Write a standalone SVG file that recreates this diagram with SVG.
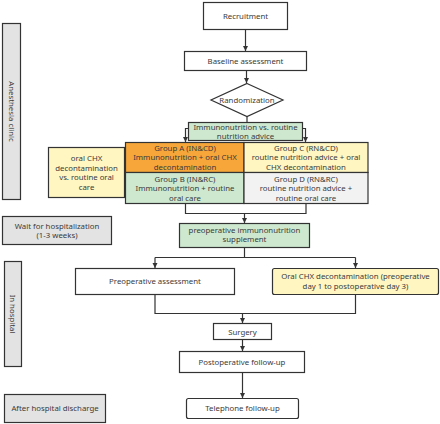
<svg xmlns="http://www.w3.org/2000/svg" width="440" height="424" viewBox="0 0 440 424">
<defs>
<marker id="ah" viewBox="0 0 10 10" refX="10" refY="5" markerWidth="5.5" markerHeight="5.5" orient="auto" markerUnits="userSpaceOnUse">
<path d="M0,0 L10,5 L0,10 z" fill="#333"/>
</marker>
<style>
.b{stroke:#333;stroke-width:1.2}
.w{fill:#fff}
.g{fill:#cde8cf}
.y{fill:#fff6c2}
.o{fill:#f7a73a}
.l{fill:#f2f2f2}
.s{fill:#e3e3e3}
text{font-family:"Noto Sans","Open Sans","DejaVu Sans",sans-serif;font-size:7.8px;fill:#3a3a3a;text-anchor:middle}
.c{fill:none;stroke:#333;stroke-width:1.2}
</style>
</defs>
<rect width="440" height="424" fill="#fff"/>
<g id="side-anesthesia"><rect class="b s" x="2.5" y="23.5" width="18" height="176"/><text transform="translate(11.5,111.5) rotate(90)" dy="2.8">Anesthesia clinic</text></g>
<g id="side-wait"><rect class="b s" x="2.5" y="216.5" width="109" height="28"/><text x="57" y="228.5">Wait for hospitalization</text><text x="57" y="238">(1-3 weeks)</text></g>
<g id="side-inhospital"><rect class="b s" x="4.5" y="261.5" width="17" height="105"/><text transform="translate(13,314) rotate(90)" dy="2.8">In hospital</text></g>
<g id="side-after"><rect class="b s" x="4.5" y="394.5" width="101" height="28"/><text x="55" y="411">After hospital discharge</text></g>

<g id="recruitment"><rect class="b w" x="203.5" y="2.5" width="84" height="27"/><text x="245.5" y="18.5">Recruitment</text></g>
<g id="baseline"><rect class="b w" x="184.5" y="51.5" width="122" height="19"/><text x="245.5" y="63.5">Baseline assessment</text></g>
<g id="randomization"><path class="b w" d="M247,83.5 L283,100 L247,116.5 L211,100 z"/><text x="247" y="102.8">Randomization</text></g>
<g id="nutrition-choice"><rect class="b g" x="188.5" y="122.5" width="114" height="18"/><text x="245.5" y="130">Immunonutrition vs. routine</text><text x="245.5" y="139">nutrition advice</text></g>
<g id="oral-choice"><rect class="b y" x="48.5" y="147.5" width="76" height="50"/><text x="86.5" y="161">oral CHX</text><text x="86.5" y="170.5">decontamination</text><text x="86.5" y="180">vs. routine oral</text><text x="86.5" y="189.5">care</text></g>
<g id="group-a"><rect class="b o" x="125.5" y="142.5" width="118.5" height="30"/><text x="185" y="150.5">Group A (IN&amp;CD)</text><text x="185" y="160">Immunonutrition + oral CHX</text><text x="185" y="169.5">decontamination</text></g>
<g id="group-b"><rect class="b g" x="125.5" y="172.5" width="118.5" height="31"/><text x="185" y="181.5">Group B (IN&amp;RC)</text><text x="185" y="191">Immunonutrition + routine</text><text x="185" y="200.5">oral care</text></g>
<g id="group-c"><rect class="b y" x="244" y="142.5" width="124" height="30"/><text x="306" y="150.5">Group C (RN&amp;CD)</text><text x="306" y="160">routine nutrition advice + oral</text><text x="306" y="169.5">CHX decontamination</text></g>
<g id="group-d"><rect class="b l" x="244" y="172.5" width="124" height="31"/><text x="306" y="181.5">Group D (RN&amp;RC)</text><text x="306" y="191">routine nutrition advice +</text><text x="306" y="200.5">routine oral care</text></g>
<g id="supplement"><rect class="b g" x="179.5" y="223.5" width="130" height="24"/><text x="244.5" y="232.5">preoperative immunonutrition</text><text x="244.5" y="242">supplement</text></g>
<g id="preop-assess"><rect class="b w" x="75.5" y="268.5" width="159" height="26"/><text x="155" y="284">Preoperative assessment</text></g>
<g id="oral-chx"><rect class="b y" x="272.5" y="268.5" width="166" height="26" rx="2"/><text x="355.5" y="279">Oral CHX decontamination (preoperative</text><text x="355.5" y="289">day 1 to postoperative day 3)</text></g>
<g id="surgery"><rect class="b w" x="213.5" y="323.5" width="58" height="16"/><text x="242.5" y="334.5">Surgery</text></g>
<g id="postop"><rect class="b w" x="179.5" y="351.5" width="125" height="21"/><text x="242" y="364.5">Postoperative follow-up</text></g>
<g id="telephone"><rect class="b w" x="186.5" y="398.5" width="112" height="20" rx="2"/><text x="242.5" y="411">Telephone follow-up</text></g>

<g id="connectors">
<path class="c" d="M245.5,29.5 V51" marker-end="url(#ah)"/>
<path class="c" d="M246.5,70.5 V83" marker-end="url(#ah)"/>
<path class="c" d="M247,116.5 V122.5"/>
<path class="c" d="M188.5,128.5 H185.5 V142" marker-end="url(#ah)"/>
<path class="c" d="M302.5,128.5 H305.5 V142" marker-end="url(#ah)"/>
<path class="c" d="M185.5,203.5 V213.5 H306 V203.5"/>
<path class="c" d="M244.5,213.5 V223" marker-end="url(#ah)"/>
<path class="c" d="M244.5,247.5 V257.5"/>
<path class="c" d="M155,257.5 H355.5"/>
<path class="c" d="M155,257.5 V268" marker-end="url(#ah)"/>
<path class="c" d="M355.5,257.5 V268" marker-end="url(#ah)"/>
<path class="c" d="M155,294.5 V313.5 H355.5 V294.5"/>
<path class="c" d="M242.5,313.5 V323" marker-end="url(#ah)"/>
<path class="c" d="M242.5,339.5 V351" marker-end="url(#ah)"/>
<path class="c" d="M242.5,372.5 V398" marker-end="url(#ah)"/>
</g>
</svg>
